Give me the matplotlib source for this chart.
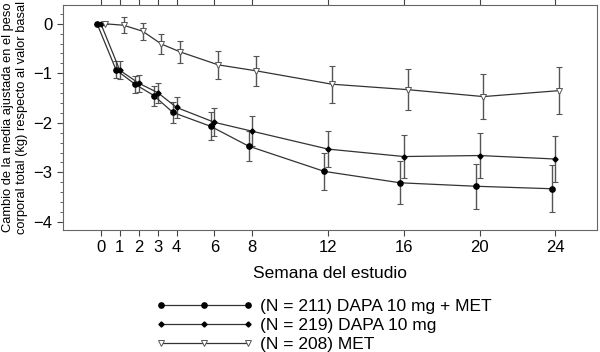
import numpy as np
import matplotlib
matplotlib.use('Agg')
import matplotlib.pyplot as plt
from matplotlib.ticker import MultipleLocator

plt.rcParams['font.family'] = ['Liberation Sans', 'DejaVu Sans']

# datos
weeks = [0, 1, 2, 3, 4, 6, 8, 12, 16, 20, 24]
dapa_met = [0, -0.93, -1.22, -1.45, -1.79, -2.07, -2.47, -2.98, -3.21, -3.28, -3.33]
dapa_met_err = [0, 0.17, 0.17, 0.20, 0.22, 0.28, 0.30, 0.38, 0.43, 0.45, 0.47]
dapa = [0, -0.94, -1.20, -1.39, -1.69, -1.99, -2.17, -2.53, -2.68, -2.66, -2.73]
dapa_err = [0, 0.18, 0.17, 0.20, 0.22, 0.28, 0.30, 0.37, 0.43, 0.45, 0.47]
met = [0, -0.03, -0.15, -0.41, -0.57, -0.83, -0.95, -1.22, -1.33, -1.47, -1.35]
met_err = [0, 0.16, 0.17, 0.20, 0.22, 0.28, 0.30, 0.37, 0.42, 0.45, 0.47]
labels = ['(N = 211) DAPA 10 mg + MET', '(N = 219) DAPA 10 mg', '(N = 208) MET']

fig = plt.figure(figsize=(6, 3.52), dpi=100)
ax = fig.add_axes([0.105, 0.347, 0.89, 0.639])

w = np.array(weeks)
series = [
    (dapa_met, dapa_met_err, -0.2, dict(marker='o', ms=3.8, mfc='black', mec='black')),
    (dapa, dapa_err, 0.0, dict(marker='D', ms=2.6, mfc='black', mec='black')),
    (met, met_err, 0.2, dict(marker='v', ms=3.8, mfc='white', mec='#555555', mew=0.7)),
]
handles = []
for (vals, err, off, mk), lab in zip(series, labels):
    x = w + off
    ax.errorbar(x, vals, yerr=err, fmt='none', ecolor='#555555', elinewidth=1,
                capsize=2, capthick=0.8, zorder=2)
    h, = ax.plot(x, vals, color='#333333', lw=0.9, zorder=3, label=lab, **mk)
    handles.append(h)

ax.set_xlim(-2, 26.2)
ax.set_ylim(-4.16, 0.38)
ax.set_xticks(weeks)
ax.set_yticks([0, -1, -2, -3, -4])
ax.yaxis.set_minor_locator(MultipleLocator(0.2))
ax.tick_params(axis='both', labelsize=12, direction='out', length=4, color='#444444')
ax.tick_params(axis='x', top=True)
ax.tick_params(axis='y', which='minor', length=2.5, color='#444444')
for s in ax.spines.values():
    s.set_color('#666666')
    s.set_linewidth(0.8)

ax.set_xlabel('Semana del estudio', fontsize=12.5, labelpad=8)
ax.set_ylabel('Cambio de la media ajustada en el peso\ncorporal total (kg) respecto al valor basal',
              fontsize=9.3, labelpad=4)

fig.legend(handles=handles, loc='upper left', bbox_to_anchor=(0.245, 0.175),
           frameon=False, fontsize=12.5, numpoints=3, handlelength=5.6,
           handletextpad=0.4, labelspacing=0.22, borderpad=0)

fig.savefig('out.png', dpi=100)
